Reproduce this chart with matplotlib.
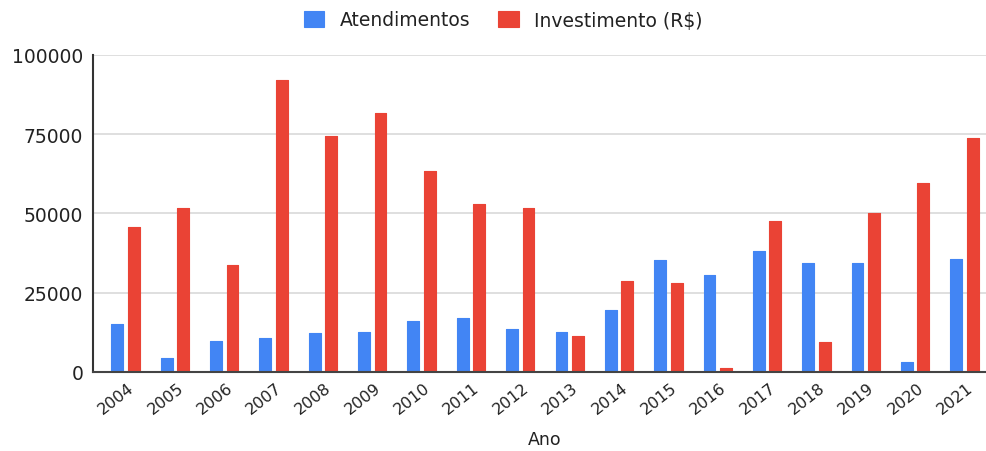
import numpy as np
import matplotlib.pyplot as plt
import matplotlib.transforms as mtransforms

# Atendimentos e investimento por ano
anos = ["2004", "2005", "2006", "2007", "2008", "2009", "2010", "2011", "2012",
        "2013", "2014", "2015", "2016", "2017", "2018", "2019", "2020", "2021"]
atendimentos = [15060, 4230, 9690, 10540, 12220, 12630, 15910, 16860, 13390,
                12540, 19390, 35270, 30530, 38200, 34420, 34420, 2970, 35680]
investimento = [45800, 51700, 33600, 92100, 74500, 81600, 63470, 53050, 51700,
                11370, 28640, 28100, 1260, 47500, 9280, 50000, 59580, 73700]
yticks = [0, 25000, 50000, 75000, 100000]

azul = "#4285F4"
vermelho = "#EA4335"

plt.rcParams["font.family"] = ["DejaVu Sans"]

fig = plt.figure(figsize=(9.86, 4.52), dpi=100)
ax = fig.add_axes([93 / 986, 1 - 372.7 / 452, 904 / 986, (372.7 - 56) / 452])

x = np.arange(len(anos))
w = 0.24
off = 0.167
ax.bar(x - off, atendimentos, w, color=azul, edgecolor=azul, linewidth=0.8,
       joinstyle="round", label="Atendimentos", zorder=3)
ax.bar(x + off, investimento, w, color=vermelho, edgecolor=vermelho, linewidth=0.8,
       joinstyle="round", label="Investimento (R$)", zorder=3)

ax.set_xlim(-0.66, len(anos) - 1 + 0.66)
ax.set_ylim(0, 100000)
ax.set_yticks(yticks)
ax.set_yticklabels([str(v) for v in yticks])
ax.yaxis.grid(True, color="#d6d6d6", linewidth=1.1, zorder=0)
ax.set_axisbelow(True)

for s in ["top", "right"]:
    ax.spines[s].set_visible(False)
ax.spines["left"].set_color("#333333")
ax.spines["left"].set_linewidth(1.5)
ax.spines["bottom"].set_color("#444444")
ax.spines["bottom"].set_linewidth(1.5)
ax.spines["bottom"].set_zorder(4)

ax.tick_params(axis="both", length=0, colors="#222222")
ax.tick_params(axis="y", pad=7, labelsize=13.5)
ax.set_xticks(x)
ax.set_xticklabels(anos, rotation=38, ha="right", rotation_mode="anchor",
                   fontsize=11.5)
shift = mtransforms.ScaledTranslation(2 / 100, -3 / 100, fig.dpi_scale_trans)
for lbl in ax.get_xticklabels():
    lbl.set_transform(lbl.get_transform() + shift)

ax.set_xlabel("Ano", fontsize=12.5, color="#222222", labelpad=10)

fig.legend(loc="center", bbox_to_anchor=(503 / 986, 1 - 21 / 452), ncol=2,
           frameon=False, fontsize=13.5, handlelength=1.1, handleheight=0.9,
           columnspacing=1.5, handletextpad=0.8, labelcolor="#222222")

fig.savefig("out.png", dpi=100)
